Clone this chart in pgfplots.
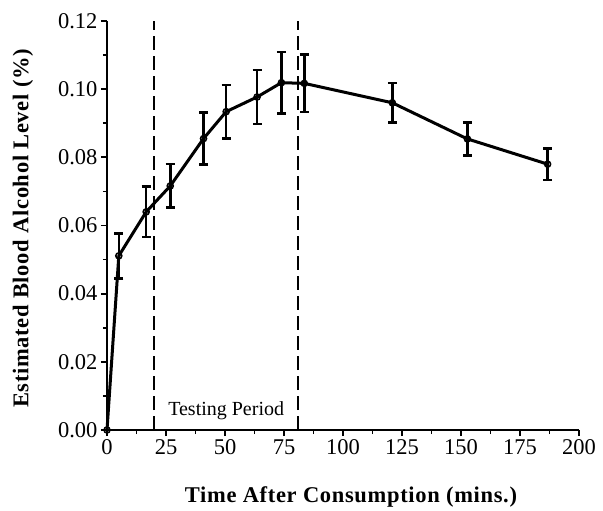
\documentclass[border=0pt]{standalone}
\usepackage{fontspec}
\setmainfont{Liberation Serif}
\newfontfamily\labfont[LetterSpace=3]{Liberation Serif}
\usepackage{pgfplots}
\pgfplotsset{compat=1.18}
\usetikzlibrary{calc}

\begin{document}
\begin{tikzpicture}
\begin{axis}[
  name=ax,
  scale only axis, width=472pt, height=409pt,
  xmin=0, xmax=200, ymin=0, ymax=0.12,
  axis x line*=bottom, axis y line*=left,
  axis line style={line width=1.8pt},
  xtick={0,25,...,200}, ytick={0,0.02,...,0.12},
  minor x tick num=1, minor y tick num=1,
  yticklabel style={/pgf/number format/.cd,fixed,fixed zerofill,precision=2},
  /pgf/number format/assume math mode=true,
  tick label style={font=\fontsize{22.5}{22.5}\selectfont},
  major tick length=6pt, minor tick length=4pt,
  tick style={line width=1.8pt, black},
  major tick style={/pgfplots/tick align=outside},
  minor tick style={/pgfplots/tick align=inside},
  xlabel={\labfont\bfseries Time After Consumption (mins.)},
  ylabel={\labfont\bfseries Estimated Blood Alcohol Level (\%)},
  every axis x label/.style={at={(rel axis cs:0.5,0)}, anchor=base, xshift=8pt, yshift=-72pt},
  every axis y label/.style={at={(rel axis cs:0,0.5)}, rotate=90, anchor=center, yshift=84pt, xshift=-3pt},
  label style={font=\fontsize{22.5}{22.5}\selectfont},
  clip=false,
]
% testing period boundaries
\addplot[black, line width=2.1pt, dash pattern=on 14pt off 6pt]
  coordinates {(20,0) (20,0.12)};
\addplot[black, line width=2.1pt, dash pattern=on 14pt off 6pt]
  coordinates {(81,0) (81,0.12)};
\addplot[black, line width=3pt, mark=o,
  mark options={fill=white, line width=1.6pt, solid}, mark size=3pt,
  error bars/.cd, y dir=both, y explicit,
  error bar style={line width=2.6pt},
  error mark options={rotate=90, mark size=4.5pt, line width=2.6pt}]
  coordinates {
  (0,0) +- (0,0)
  (5,0.0511) +- (0,0.0066)
  (16.6,0.0640) +- (0,0.0074)
  (26.8,0.0716) +- (0,0.0064)
  (40.9,0.0855) +- (0,0.0076)
  (50.5,0.0934) +- (0,0.0078)
  (63.6,0.0977) +- (0,0.0079)
  (73.9,0.1019) +- (0,0.0090)
  (83.6,0.1017) +- (0,0.0084)
  (120.9,0.0960) +- (0,0.0058)
  (152.7,0.0854) +- (0,0.0049)
  (186.7,0.0780) +- (0,0.0046)
  };
\node[anchor=base, font=\fontsize{20}{20}\selectfont] at (axis cs:50.5,0.0042) {Testing Period};
\end{axis}
\pgfresetboundingbox
\path ($(ax.south west)+(-107pt,-80pt)$) rectangle ($(ax.north east)+(24pt,21pt)$);
\end{tikzpicture}
\end{document}
